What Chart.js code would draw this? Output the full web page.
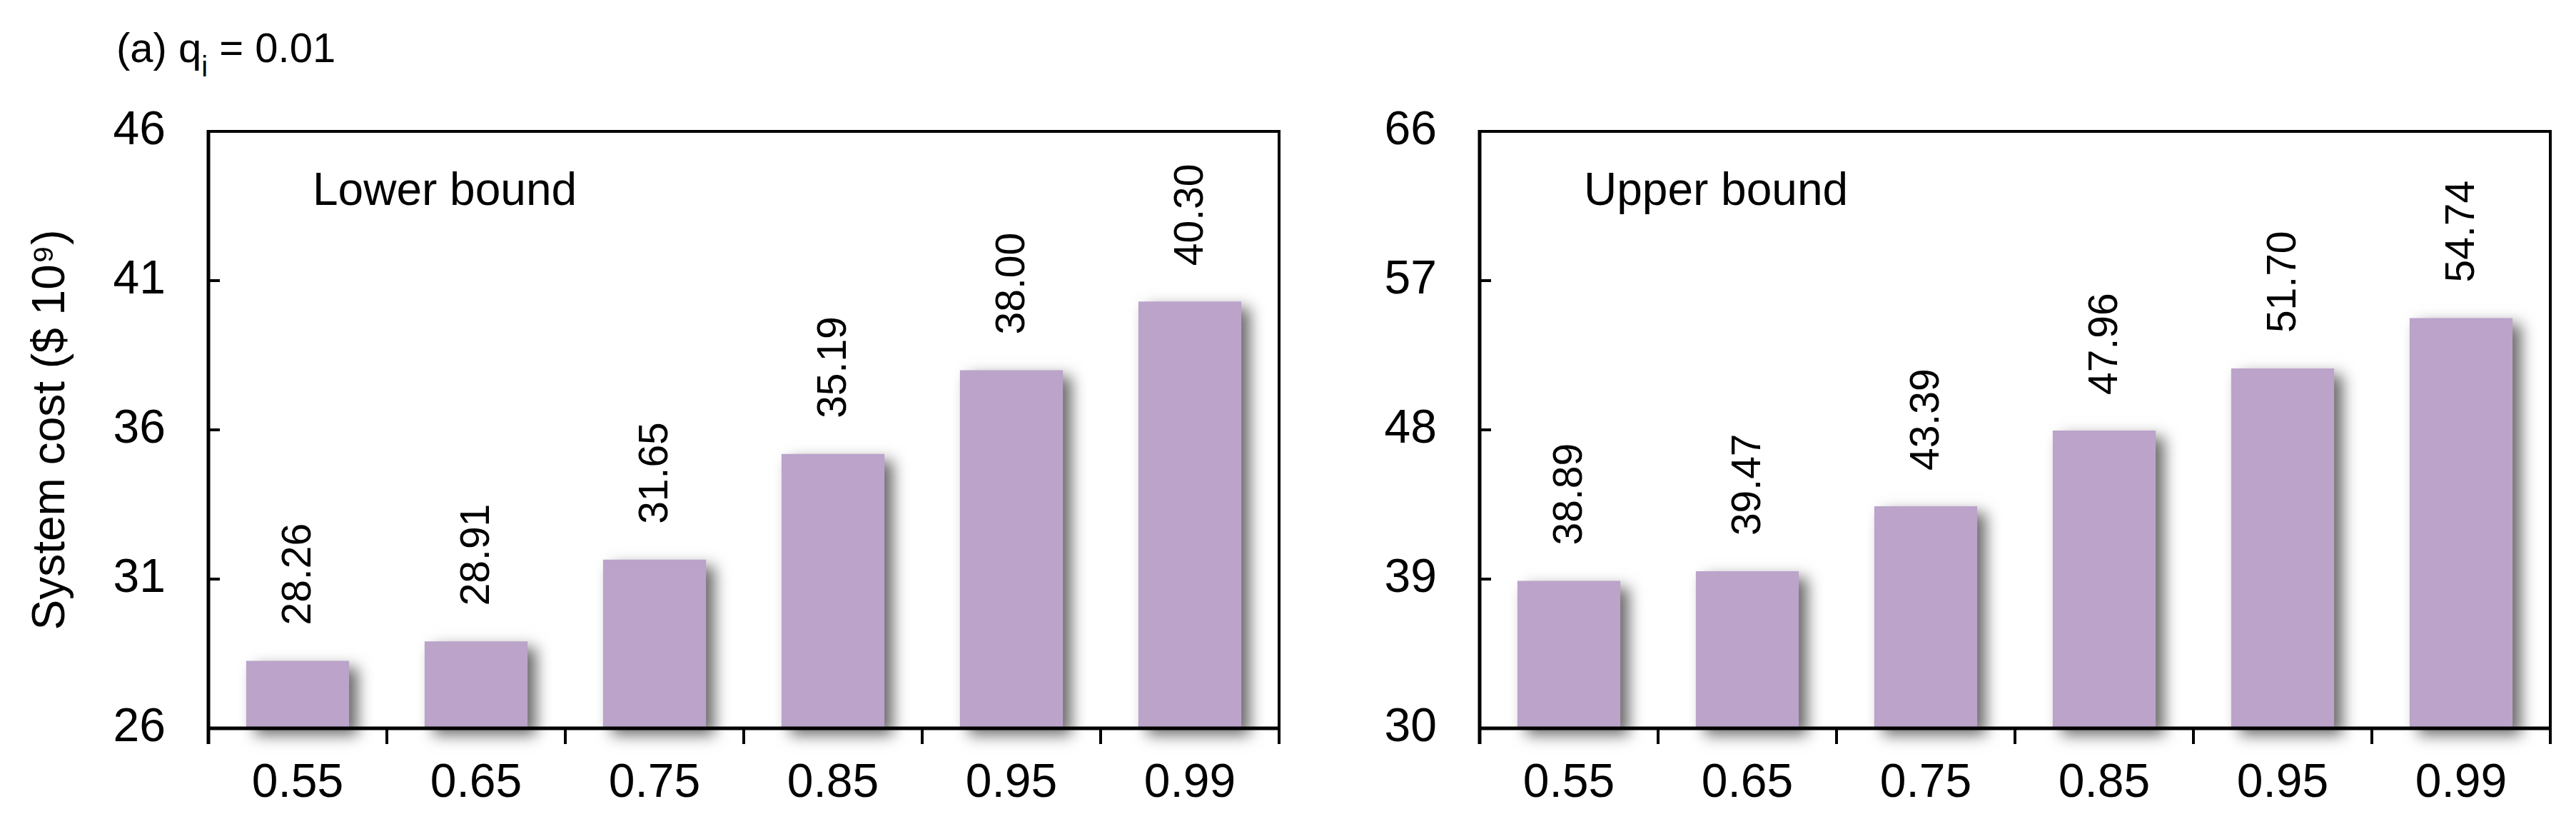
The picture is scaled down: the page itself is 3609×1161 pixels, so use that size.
<!DOCTYPE html>
<html>
<head>
<meta charset="utf-8">
<title>System cost, q_i = 0.01</title>
<script src="https://cdn.jsdelivr.net/npm/chart.js@4.4.1/dist/chart.umd.min.js"></script>
<style>
  html, body { margin: 0; padding: 0; background: #fff; }
  body {
    width: 3609px; height: 1161px; position: relative; overflow: hidden;
    font-family: "Liberation Sans", Arial, sans-serif; color: #000;
  }
  #title { position: absolute; left: 163px; top: 38px; font-size: 58px; line-height: 58px; white-space: nowrap; }
  #title .sub { font-size: 40px; position: relative; top: 20px; }
  canvas { position: absolute; top: 0; }
  #lowerChart { left: 0; }
  #upperChart { left: 1900px; }
</style>
</head>
<body>
<div id="title">(a) q<span class="sub">i</span> = 0.01</div>
<canvas id="lowerChart" width="1900" height="1161"></canvas>
<canvas id="upperChart" width="1709" height="1161"></canvas>

<script>
// Data
const categories = ['0.55', '0.65', '0.75', '0.85', '0.95', '0.99'];
const lowerCost = [28.26, 28.91, 31.65, 35.19, 38.00, 40.30];
const upperCost = [38.89, 39.47, 43.39, 47.96, 51.70, 54.74];
const lowerTicks = [26, 31, 36, 41, 46];
const upperTicks = [30, 39, 48, 57, 66];

const FONT = '"Liberation Sans", Arial, sans-serif';
const BAR_COLOR = '#BBA3CA';

// Drop shadow on the bars, then the boxed frame, ticks and text on top
const barDecor = {
  id: 'barDecor',
  beforeDatasetsDraw(chart) {
    const ctx = chart.ctx;
    ctx.save();
    ctx.shadowColor = 'rgba(0, 0, 0, 0.6)';
    ctx.shadowBlur = 20;
    ctx.shadowOffsetX = 12;
    ctx.shadowOffsetY = 9;
  },
  afterDatasetsDraw(chart, args, opts) {
    const ctx = chart.ctx;
    ctx.restore();

    const area = chart.chartArea;
    const xScale = chart.scales.x;
    const yScale = chart.scales.y;
    const tickDown = 22;

    ctx.save();
    ctx.strokeStyle = '#000';

    // top and right border
    ctx.lineWidth = 4;
    ctx.beginPath();
    ctx.moveTo(area.left, area.top);
    ctx.lineTo(area.right, area.top);
    ctx.moveTo(area.right, area.top - 2);
    ctx.lineTo(area.right, area.bottom + tickDown);
    ctx.stroke();

    // left and bottom axis
    ctx.lineWidth = 5;
    ctx.beginPath();
    ctx.moveTo(area.left, area.top - 2);
    ctx.lineTo(area.left, area.bottom + tickDown);
    ctx.moveTo(area.left, area.bottom);
    ctx.lineTo(area.right + 2, area.bottom);
    ctx.stroke();

    // inward y ticks, downward x ticks between categories
    ctx.lineWidth = 4;
    ctx.beginPath();
    yScale.ticks.forEach(t => {
      const py = yScale.getPixelForValue(t.value);
      if (py > area.top + 3 && py < area.bottom - 3) {
        ctx.moveTo(area.left, py);
        ctx.lineTo(area.left + 16, py);
      }
    });
    for (let i = 1; i < categories.length; i++) {
      const px = xScale.getPixelForValue(i - 0.5);
      ctx.moveTo(px, area.bottom);
      ctx.lineTo(px, area.bottom + tickDown);
    }
    ctx.stroke();

    // value labels, rotated, above each bar
    const values = chart.data.datasets[0].data;
    ctx.fillStyle = '#000';
    ctx.font = '57px ' + FONT;
    ctx.textAlign = 'left';
    ctx.textBaseline = 'middle';
    chart.getDatasetMeta(0).data.forEach((bar, i) => {
      ctx.save();
      ctx.translate(bar.x + 2, bar.y - 50);
      ctx.rotate(-Math.PI / 2);
      ctx.fillText(values[i].toFixed(2), 0, 0);
      ctx.restore();
    });

    // panel label
    ctx.font = '64px ' + FONT;
    ctx.textBaseline = 'alphabetic';
    ctx.fillText(opts.text, area.left + 146, area.top + 103);
    ctx.restore();
  }
};

function makeChart(canvasId, values, ticks, panelText, yWidth, padRight, yTitle) {
  return new Chart(document.getElementById(canvasId), {
    type: 'bar',
    data: {
      labels: categories,
      datasets: [{
        data: values,
        base: ticks[0],
        backgroundColor: BAR_COLOR,
        borderWidth: 0,
        barPercentage: 0.577,
        categoryPercentage: 1.0,
        clip: false
      }]
    },
    options: {
      responsive: false,
      animation: false,
      devicePixelRatio: 1,
      layout: { padding: { left: 0, right: padRight, top: 184, bottom: 0 } },
      plugins: {
        legend: { display: false },
        tooltip: { enabled: false },
        barDecor: { text: panelText }
      },
      scales: {
        x: {
          grid: { display: false, drawTicks: false },
          border: { display: false },
          ticks: { color: '#000', font: { family: FONT, size: 66 }, padding: 38 },
          afterFit: s => { s.height = 141; }
        },
        y: {
          min: ticks[0],
          max: ticks[ticks.length - 1],
          grid: { display: false, drawTicks: false },
          border: { display: false },
          ticks: { color: '#000', font: { family: FONT, size: 66 }, padding: 60 },
          afterBuildTicks: s => { s.ticks = ticks.map(v => ({ value: v })); },
          afterFit: s => { s.width = yWidth; },
          title: {
            display: !!yTitle,
            text: yTitle || '',
            color: '#000',
            font: { family: FONT, size: 64, weight: 'normal' },
            padding: { top: 34, bottom: 0 }
          }
        }
      }
    },
    plugins: [barDecor]
  });
}

makeChart('lowerChart', lowerCost, lowerTicks, 'Lower bound', 292, 108, 'System cost ($ 10\u2079)');
makeChart('upperChart', upperCost, upperTicks, 'Upper bound', 173, 36, null);
</script>
</body>
</html>
